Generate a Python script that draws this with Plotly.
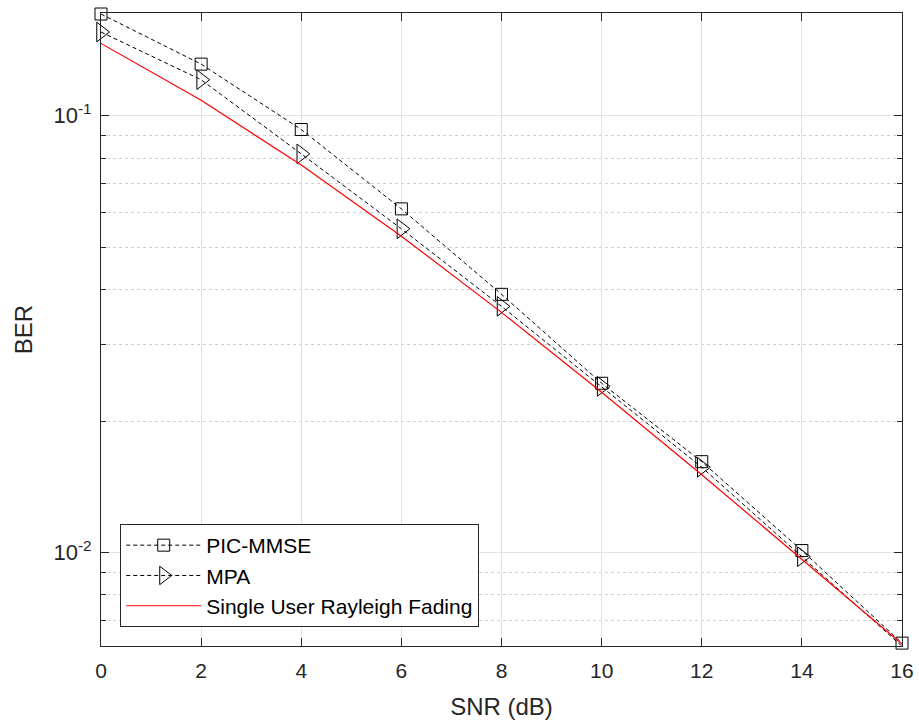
import plotly.graph_objects as go

snr = [0, 2, 4, 6, 8, 10, 12, 14, 16]
ber_pic_mmse = [0.171, 0.1313, 0.0930, 0.0612, 0.0390, 0.0244, 0.01614, 0.0101, 0.0062]
ber_mpa = [0.1555, 0.1209, 0.0818, 0.0551, 0.0366, 0.0240, 0.01567, 0.00978, 0.0061]
ber_single = [0.14645, 0.10849, 0.07714, 0.05300, 0.03546, 0.02327, 0.01507, 0.00966, 0.00617]

x_ticks = [0, 2, 4, 6, 8, 10, 12, 14, 16]
y_major = [0.01, 0.1]
y_major_text = ["10<sup>-2</sup>", "10<sup>-1</sup>"]
y_minor = [0.007, 0.008, 0.009, 0.02, 0.03, 0.04, 0.05, 0.06, 0.07, 0.08, 0.09]

FONT = "Liberation Sans, Arial, Helvetica, sans-serif"
TXT = "#262626"

fig = go.Figure()
fig.add_trace(go.Scatter(
    x=snr, y=ber_pic_mmse, name="PIC-MMSE", mode="lines+markers",
    line=dict(color="black", width=1, dash="4px,3px"),
    marker=dict(symbol="square-open", size=12, color="black", line=dict(width=1)),
    cliponaxis=False))
fig.add_trace(go.Scatter(
    x=snr, y=ber_mpa, name="MPA", mode="lines+markers",
    line=dict(color="black", width=1, dash="4px,3px"),
    marker=dict(symbol="triangle-right-open", size=17, color="black", line=dict(width=1)),
    cliponaxis=False))
fig.add_trace(go.Scatter(
    x=snr, y=ber_single, name="Single User Rayleigh Fading", mode="lines",
    line=dict(color="#ff0000", width=1.2),
    cliponaxis=False))

fig.update_layout(
    width=919, height=724,
    margin=dict(l=101, r=17, t=13, b=78),
    paper_bgcolor="white", plot_bgcolor="white",
    font=dict(family=FONT, color=TXT, size=21),
    showlegend=True,
    legend=dict(
        x=0.024, y=0.030, xanchor="left", yanchor="bottom",
        bgcolor="white", bordercolor=TXT, borderwidth=1,
        font=dict(family=FONT, size=21, color="black"),
        itemwidth=75, tracegroupgap=0,
    ),
)
fig.update_xaxes(
    range=[0, 16], tickmode="array", tickvals=x_ticks,
    automargin=False,
    showgrid=True, gridcolor="#e3e3e3", gridwidth=1,
    showline=True, linecolor=TXT, linewidth=1, mirror="ticks",
    ticks="inside", ticklen=8, tickcolor=TXT, ticklabelstandoff=6,
    tickfont=dict(size=21, family=FONT, color=TXT),
    zeroline=False,
    title=dict(text="SNR (dB)", font=dict(size=24, family=FONT, color=TXT), standoff=16),
)
fig.update_yaxes(
    type="log", range=[-2.2142, -0.7647],
    tickmode="array", tickvals=y_major, ticktext=y_major_text,
    automargin=False,
    showgrid=True, gridcolor="#e3e3e3", gridwidth=1,
    showline=True, linecolor=TXT, linewidth=1, mirror="ticks",
    ticks="inside", ticklen=8, tickcolor=TXT, ticklabelstandoff=4,
    tickfont=dict(size=22, family=FONT, color=TXT),
    zeroline=False,
    minor=dict(tickmode="array", tickvals=y_minor, showgrid=True,
               gridcolor="#d0d0d0", griddash="dot", gridwidth=1,
               ticks="inside", ticklen=5, tickcolor=TXT),
    title=dict(text="BER", font=dict(size=24, family=FONT, color=TXT), standoff=14),
)

fig.write_html("out.html")
